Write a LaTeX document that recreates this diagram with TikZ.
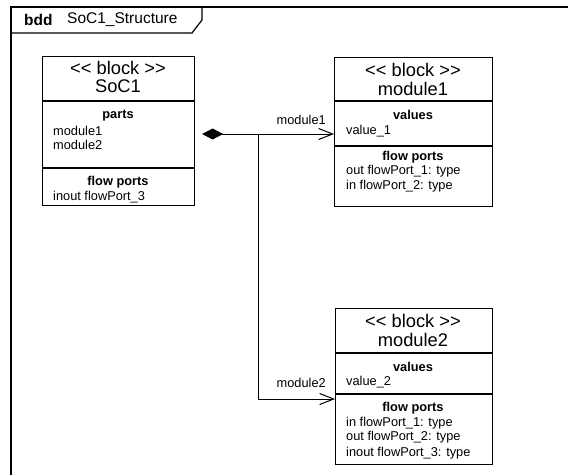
\documentclass[tikz,border=0pt]{standalone}
\usepackage{fontspec}
\setmainfont{Liberation Sans}
\usetikzlibrary{arrows.meta}

\newcommand{\stereo}[1]{{<}{<} #1 {>}{>}}

\tikzset{
  frameline/.style={line width=1.2pt, black},
  blockbox/.style={draw=black, line width=1.1pt, fill=white, inner sep=0pt, anchor=north west},
  divider/.style={line width=1.1pt, black},
  bigtext/.style={inner sep=0pt, anchor=center, font=\fontsize{18.3}{20}\selectfont},
  headtext/.style={inner sep=0pt, anchor=center, font=\fontsize{12.8}{14}\selectfont\bfseries},
  itemtext/.style={inner sep=0pt, anchor=west, font=\fontsize{12.8}{14}\selectfont},
  roletext/.style={inner sep=0pt, anchor=east, font=\fontsize{12.8}{14}\selectfont},
  titletext/.style={inner sep=0pt, anchor=west, font=\fontsize{15.5}{17}\selectfont},
  link/.style={line width=1pt, black},
  composite/.style={link, {Diamond[length=21pt,width=11pt,fill=black]}-{Straight Barb[length=14pt,width=11pt]}},
  directed/.style={link, -{Straight Barb[length=14pt,width=11pt]}},
}

\begin{document}
\begin{tikzpicture}[x=1pt,y=-1pt]
  \useasboundingbox (0,0) rectangle (568,475);
  \fill[white] (0,0) rectangle (568,475);

  % diagram frame with its name tab
  \draw[frameline] (568,7) -- (11,7) -- (11,475);
  \draw[frameline] (11,33) -- (192,33) -- (202,20) -- (202,7);
  \node[titletext, font=\fontsize{15.5}{17}\selectfont\bfseries] (kind) at (24,20) {bdd};
  \node[titletext] (title) at (67,20) {SoC1\_Structure};

  % block SoC1
  \node[blockbox, minimum width=152pt, minimum height=149pt] (soc1) at (42,56) {};
  \draw[divider] (soc1.west |- 0,101) -- (soc1.east |- 0,101);
  \draw[divider] (soc1.west |- 0,168) -- (soc1.east |- 0,168);
  \node[bigtext] (soc1-st) at (118,68) {\stereo{block}};
  \node[bigtext] (soc1-nm) at (118,86) {SoC1};
  \node[headtext] (soc1-ph) at (118,116) {parts};
  \node[itemtext] (soc1-p1) at (53,131) {module1};
  \node[itemtext] (soc1-p2) at (53,145) {module2};
  \node[headtext] (soc1-fh) at (118,182) {flow ports};
  \node[itemtext] (soc1-f1) at (53,197) {inout flowPort\_3};

  % block module1
  \node[blockbox, minimum width=158pt, minimum height=149pt] (m1) at (334,57) {};
  \draw[divider] (m1.west |- 0,101) -- (m1.east |- 0,101);
  \draw[divider] (m1.west |- 0,146) -- (m1.east |- 0,146);
  \node[bigtext] (m1-st) at (413,70) {\stereo{block}};
  \node[bigtext] (m1-nm) at (413,89) {module1};
  \node[headtext] (m1-vh) at (413,115) {values};
  \node[itemtext] (m1-v1) at (346,131) {value\_1};
  \node[headtext] (m1-fh) at (413,157) {flow ports};
  \node[itemtext] (m1-f1) at (346,171) {out flowPort\_1: type};
  \node[itemtext] (m1-f2) at (346,186) {in flowPort\_2: type};

  % block module2
  \node[blockbox, minimum width=157pt, minimum height=156pt] (m2) at (335,308) {};
  \draw[divider] (m2.west |- 0,353) -- (m2.east |- 0,353);
  \draw[divider] (m2.west |- 0,394) -- (m2.east |- 0,394);
  \node[bigtext] (m2-st) at (413,321) {\stereo{block}};
  \node[bigtext] (m2-nm) at (413,340) {module2};
  \node[headtext] (m2-vh) at (413,367) {values};
  \node[itemtext] (m2-v1) at (346,382) {value\_2};
  \node[headtext] (m2-fh) at (413,408) {flow ports};
  \node[itemtext] (m2-f1) at (346,423) {in flowPort\_1: type};
  \node[itemtext] (m2-f2) at (346,437) {out flowPort\_2: type};
  \node[itemtext] (m2-f3) at (346,453) {inout flowPort\_3: type};

  % composition connectors
  \coordinate (split) at (258,134);
  \coordinate (bend) at (258,399);
  \path (soc1.east |- split) ++(7,0) coordinate (whole);
  \draw[composite] (whole) -- (split -| m1.west);
  \draw[directed] (split) -- (bend) -- (bend -| m2.west);
  \node[roletext] (r1) at (326,120) {module1};
  \node[roletext] (r2) at (326,383) {module2};
\end{tikzpicture}
\end{document}
